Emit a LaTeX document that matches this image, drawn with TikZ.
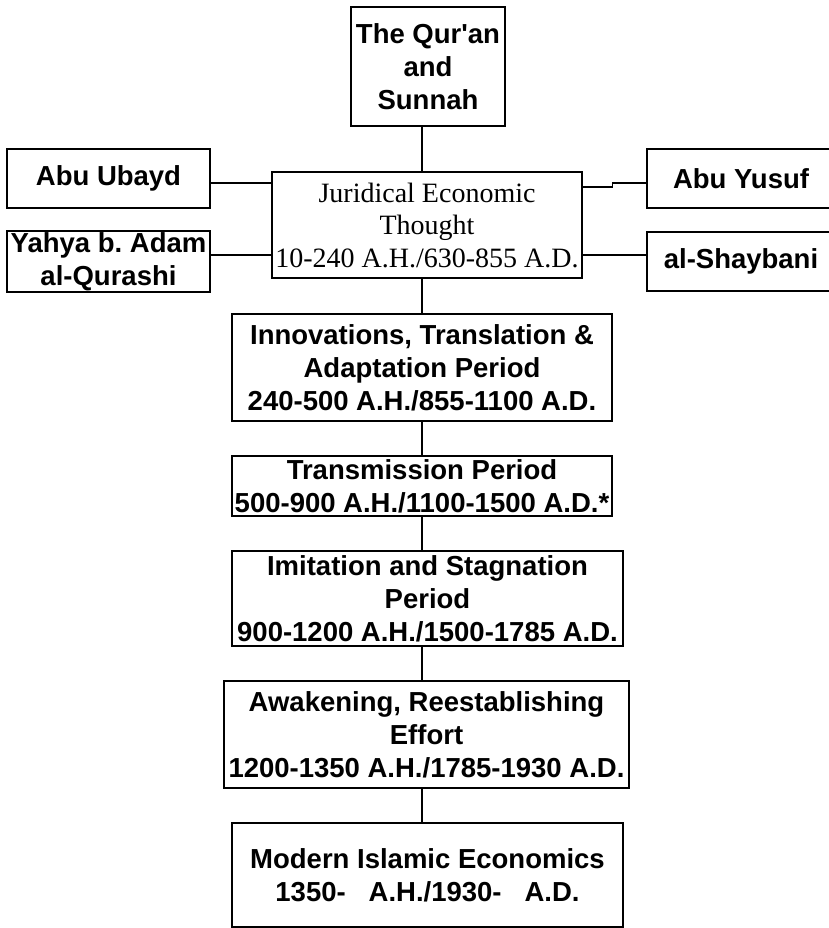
\documentclass[tikz,border=0pt]{standalone}
\usepackage{fontspec}
\setmainfont{Liberation Sans}
\newfontfamily\jurfont{Liberation Serif}
\usepackage{tikz}
\tikzstyle{period} = [draw, rectangle, line width=1.4pt, inner sep=0pt, align=center, font=\bfseries\fontsize{27.5}{33}\selectfont]
\tikzstyle{link} = [line width=1.4pt]

\begin{document}
\begin{tikzpicture}[x=1pt, y=-1pt, node distance=125pt]
		\fill[white] (0,0) rectangle (829,928);
		\useasboundingbox (0,0) rectangle (829,928);

		\node (quran) [period, minimum width=154pt, minimum height=119pt] at (428,66.5) {The Qur\textquotesingle an\\and\\Sunnah};
		\node (jurid) [period, below of=quran, yshift=-33.5pt, xshift=-1pt, minimum width=310pt, minimum height=106pt, font=\jurfont\fontsize{28}{32.5}\selectfont] {Juridical Economic\\Thought\\10-240 A.H./630-855 A.D.};
		\node (ubayd) [period, left of=jurid, xshift=-193.5pt, yshift=46.5pt, minimum width=203pt, minimum height=59pt] {Abu Ubayd};
		\node (yahya) [period, below of=ubayd, yshift=42pt, minimum width=203pt, minimum height=61pt] {Yahya b.\ Adam\\al-Qurashi};
		\node (yusuf) [period, right of=jurid, xshift=189pt, yshift=46.5pt, minimum width=188pt, minimum height=59pt] {Abu Yusuf};
		\node (shaybani) [period, below of=yusuf, yshift=42pt, minimum width=188pt, minimum height=59pt] {al-Shaybani};

		\node (innov) [period, below of=jurid, yshift=-17.5pt, xshift=-5pt, minimum width=380pt, minimum height=107pt] {Innovations, Translation \&\\Adaptation Period\\240-500 A.H./855-1100 A.D.};
		\node (trans) [period, below of=innov, yshift=6.5pt, minimum width=380pt, minimum height=60pt] {Transmission Period\\500-900 A.H./1100-1500 A.D.*};
		\node (imit) [period, below of=trans, yshift=12.5pt, xshift=5.5pt, minimum width=391pt, minimum height=95pt] {Imitation and Stagnation\\Period\\900-1200 A.H./1500-1785 A.D.};
		\node (awak) [period, below of=imit, yshift=-11pt, xshift=-1pt, minimum width=405pt, minimum height=107pt] {Awakening, Reestablishing\\Effort\\1200-1350 A.H./1785-1930 A.D.};
		\node (modern) [period, below of=awak, yshift=-15.5pt, xshift=1pt, minimum width=391pt, minimum height=104pt] {Modern Islamic Economics\\1350-\ \ \ A.H./1930-\ \ \ A.D.};

		\draw [link] (quran.south -| innov) -- (jurid.north -| innov);
		\draw [link] (jurid.south -| innov) -- (innov.north);
		\draw [link] (innov.south) -- (trans.north);
		\draw [link] (trans.south) -- (imit.north -| trans);
		\draw [link] (imit.south -| trans) -- (awak.north -| trans);
		\draw [link] (awak.south -| trans) -- (modern.north -| trans);

		\draw [link] ([yshift=-4.5pt]ubayd.east) -- ([yshift=-4.5pt]ubayd.east -| jurid.west);
		\draw [link] ([yshift=-8.5pt]yusuf.west -| jurid.east) -- ++(30,0) |- ([yshift=-4.5pt]yusuf.west);
		\draw [link] ([yshift=6.5pt]yahya.east) -- ([yshift=6.5pt]yahya.east -| jurid.west);
		\draw [link] ([yshift=6.5pt]shaybani.west -| jurid.east) -- ([yshift=6.5pt]shaybani.west);
	\end{tikzpicture}
\end{document}
